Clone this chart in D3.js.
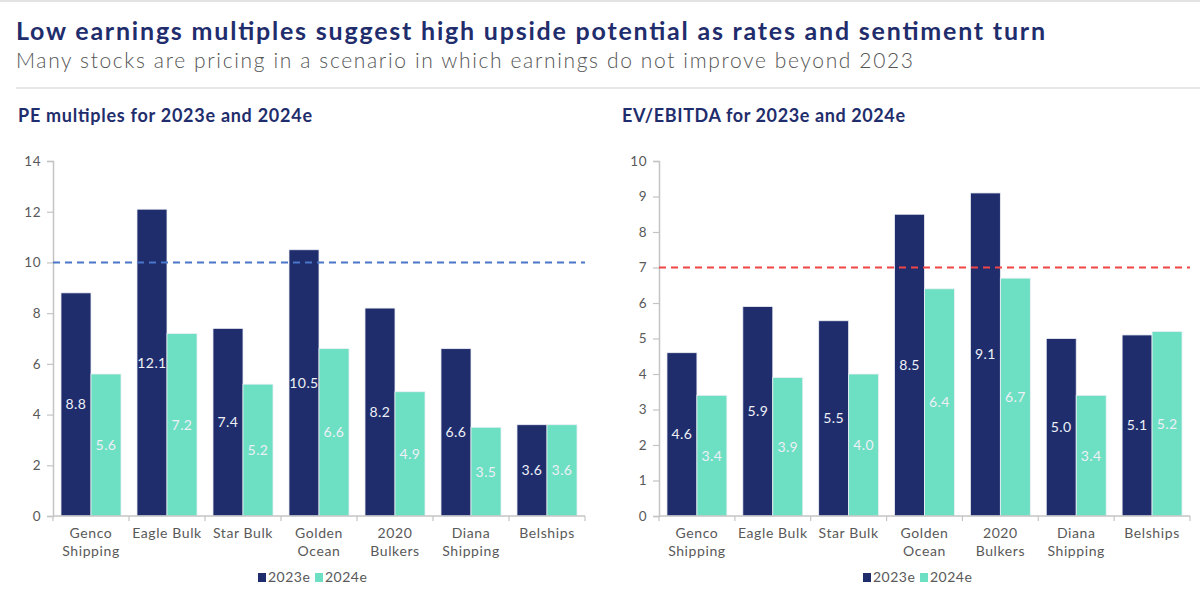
<!DOCTYPE html>
<html>
<head>
<meta charset="utf-8">
<script src="https://cdn.jsdelivr.net/npm/d3@7"></script>
<style>
  body { margin: 0; background: #fff; }
  svg text { font-family: "Lato", "Open Sans", sans-serif; }
</style>
</head>
<body>
<div id="chart"></div>
<script>
// data
const companies = ["Genco\nShipping", "Eagle Bulk", "Star Bulk", "Golden\nOcean", "2020\nBulkers", "Diana\nShipping", "Belships"];
const seriesNames = ["2023e", "2024e"];
const pe2023 = [8.8, 12.1, 7.4, 10.5, 8.2, 6.6, 3.6];
const pe2024 = [5.6, 7.2, 5.2, 6.6, 4.9, 3.5, 3.6];
const ev2023 = [4.6, 5.9, 5.5, 8.5, 9.1, 5.0, 5.1];
const ev2024 = [3.4, 3.9, 4.0, 6.4, 6.7, 3.4, 5.2];
const peTicks = [0, 2, 4, 6, 8, 10, 12, 14];
const evTicks = [0, 1, 2, 3, 4, 5, 6, 7, 8, 9, 10];

const navy = "#1f2d6d", teal = "#6ddfc3";
const colors = [navy, teal];

const svg = d3.select("#chart").append("svg")
    .attr("width", 1200)
    .attr("height", 603);

// header
svg.append("line").attr("x1", 0).attr("x2", 1200).attr("y1", 1).attr("y2", 1)
    .attr("stroke", "#e3e3e3").attr("stroke-width", 2);
svg.append("text").attr("x", 16).attr("y", 40)
    .attr("font-size", 25).attr("font-weight", 700).attr("fill", "#1f2d6d")
    .attr("textLength", 1029).attr("lengthAdjust", "spacing")
    .text("Low earnings multiples suggest high upside potential as rates and sentiment turn");
svg.append("text").attr("x", 16).attr("y", 68)
    .attr("font-size", 21).attr("font-weight", 300).attr("fill", "#555")
    .attr("textLength", 897).attr("lengthAdjust", "spacing")
    .text("Many stocks are pricing in a scenario in which earnings do not improve beyond 2023");
svg.append("line").attr("x1", 16).attr("x2", 1200).attr("y1", 88).attr("y2", 88)
    .attr("stroke", "#e0e0e0").attr("stroke-width", 1.5);

function drawPanel(opts) {
    let g = svg.append("g");

    g.append("text").attr("x", opts.titleX).attr("y", 122)
        .attr("font-size", 18).attr("font-weight", 700).attr("fill", "#1f2d6d")
        .attr("textLength", opts.titleW).attr("lengthAdjust", "spacing")
        .text(opts.title);

    let y = d3.scaleLinear().domain([0, opts.max]).range([516, 161]);
    let x = d3.scaleBand().domain(companies).range([opts.x0, opts.x1])
        .paddingInner(0.21).paddingOuter(0.105);
    let xSub = d3.scaleBand().domain(seriesNames).range([0, x.bandwidth()]);

    // y axis
    let yAxis = d3.axisLeft(y).tickValues(opts.ticks).tickSize(6).tickPadding(6);
    let ya = g.append("g").attr("transform", `translate(${opts.x0},0)`).call(yAxis);
    ya.select(".domain").attr("stroke", "#c4c4c4").attr("stroke-width", 1.5);
    ya.selectAll(".tick line").attr("stroke", "#c4c4c4").attr("stroke-width", 1.2);
    ya.selectAll(".tick text").attr("fill", "#595959").attr("font-size", 13.5).attr("letter-spacing", 0.5);

    // bars
    let data = companies.map((c, i) => ({c: c, vals: [opts.a[i], opts.b[i]]}));
    let grp = g.selectAll(".grp").data(data).enter().append("g")
        .attr("transform", d => `translate(${x(d.c)},0)`);
    grp.selectAll("rect").data(d => d.vals.map((v, k) => ({k: k, v: v}))).enter().append("rect")
        .attr("x", d => xSub(seriesNames[d.k]))
        .attr("width", xSub.bandwidth())
        .attr("y", d => y(d.v))
        .attr("height", d => y(0) - y(d.v))
        .attr("fill", d => colors[d.k])
        .attr("stroke", "#eef0f6").attr("stroke-width", 0.8);
    grp.selectAll(".lbl").data(d => d.vals.map((v, k) => ({k: k, v: v}))).enter().append("text")
        .attr("x", d => xSub(seriesNames[d.k]) + xSub.bandwidth() / 2)
        .attr("y", d => (y(d.v) + y(0)) / 2 + 5)
        .attr("text-anchor", "middle")
        .attr("font-size", 14).attr("fill", "#eef0f6").attr("letter-spacing", 0.4)
        .text(d => d.v.toFixed(1));

    // x axis
    g.append("line").attr("x1", opts.x0).attr("x2", opts.x1).attr("y1", y(0)).attr("y2", y(0))
        .attr("stroke", "#c4c4c4").attr("stroke-width", 1.5);
    for (let i = 0; i <= companies.length; i++) {
        let tx = opts.x0 + i * x.step();
        g.append("line").attr("x1", tx).attr("x2", tx).attr("y1", y(0)).attr("y2", y(0) + 5)
            .attr("stroke", "#c4c4c4").attr("stroke-width", 1.2);
    }
    let cat = g.selectAll(".cat").data(companies).enter().append("text")
        .attr("text-anchor", "middle").attr("font-size", 14).attr("fill", "#595959")
        .attr("letter-spacing", 0.6)
        .attr("x", d => x(d) + x.bandwidth() / 2)
        .attr("y", 538);
    cat.selectAll("tspan").data(d => d.split("\n")).enter().append("tspan")
        .attr("x", function() { return this.parentNode.getAttribute("x"); })
        .attr("dy", (d, i) => i === 0 ? 0 : 17.5)
        .text(d => d);

    // reference line
    g.append("line").attr("x1", opts.x0).attr("x2", opts.x1)
        .attr("y1", y(opts.ref)).attr("y2", y(opts.ref))
        .attr("stroke", opts.refColor).attr("stroke-width", 2).attr("stroke-dasharray", "7,5");

    // legend
    let lg = g.append("g").attr("transform", `translate(${opts.legendX},582)`);
    seriesNames.forEach((s, k) => {
        let off = k * 57;
        lg.append("rect").attr("x", off).attr("y", -9).attr("width", 8).attr("height", 9).attr("fill", colors[k]);
        lg.append("text").attr("x", off + 10).attr("y", 0).attr("font-size", 14).attr("fill", "#595959")
            .attr("letter-spacing", 0.5).text(s);
    });
}

drawPanel({title: "PE multiples for 2023e and 2024e", titleX: 18, titleW: 294, x0: 53, x1: 585, max: 14,
    ticks: peTicks, a: pe2023, b: pe2024, ref: 10, refColor: "#4a76c9", legendX: 258});
drawPanel({title: "EV/EBITDA for 2023e and 2024e", titleX: 622, titleW: 283, x0: 659, x1: 1190, max: 10,
    ticks: evTicks, a: ev2023, b: ev2024, ref: 7, refColor: "#f04545", legendX: 863});
</script>
</body>
</html>
